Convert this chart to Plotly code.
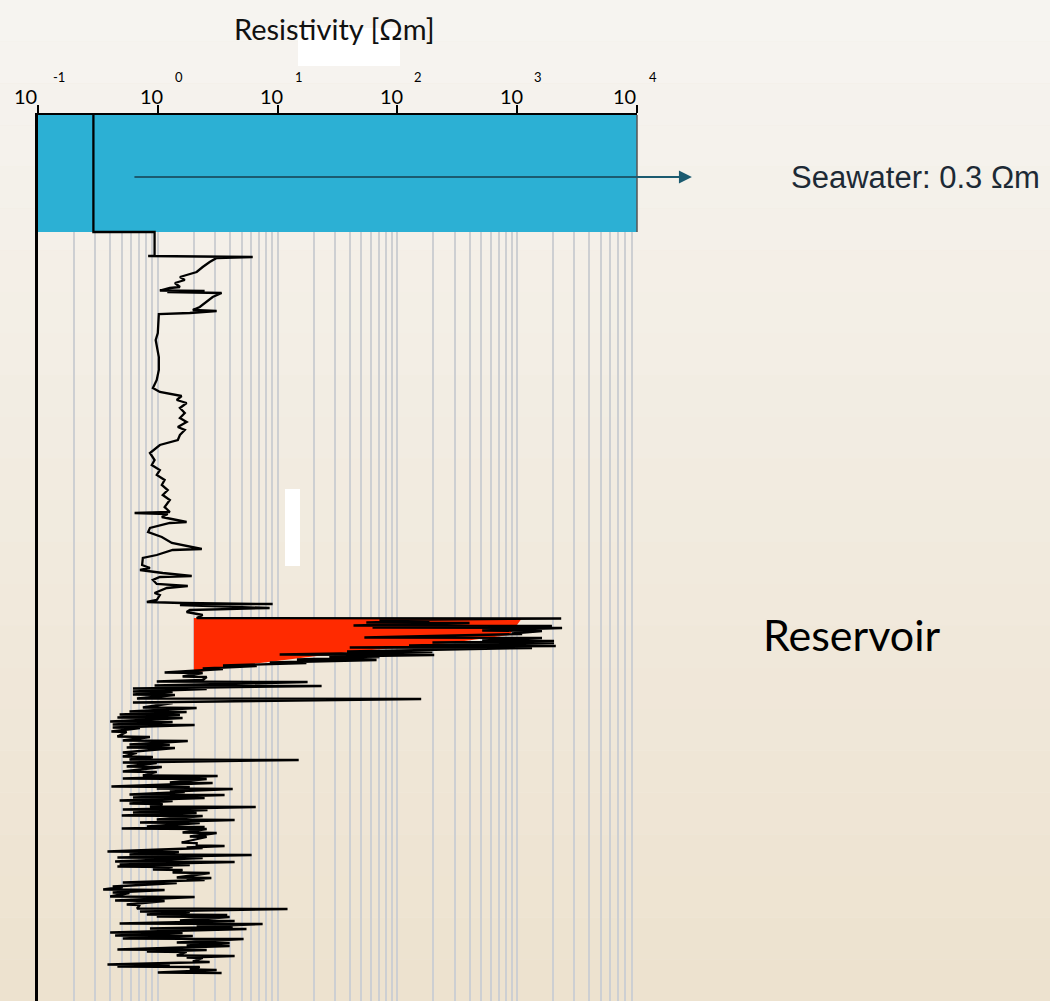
import plotly.graph_objects as go
import math

# ---------------- data ----------------
# Resistivity log: depth below sea surface (m) and resistivity (ohm-m)
seawater_resistivity = 0.29
seafloor_depth = 117
reservoir_cutoff = 2.0

# seawater + seafloor
log_depth_a = [0, 117, 117, 141, 141, 142, 143]
log_res_a = [0.29, 0.29, 0.94, 0.94, 0.83, 6.2, 3.1]

# shallow sediments
log_depth_b = [147, 152, 157, 160, 162, 165, 168, 172, 173, 175.5,
               176, 177, 178, 182, 187, 192, 195, 196, 198, 199,
               218, 225, 242, 255, 265, 273, 277, 279, 281, 285,
               288, 293, 298, 303, 307, 312, 315, 320, 325, 330,
               338, 345, 350, 355, 360, 365, 370, 375, 380, 385,
               392, 397, 398, 399, 402, 407, 408, 413, 417, 422,
               428, 434, 435, 440, 443, 450, 453, 455, 458, 461,
               462, 465, 469, 471, 473, 478, 480, 485, 487, 488,
               489, 490, 493, 495, 497, 500, 503]
log_res_b = [2.71, 2.37, 2.11, 1.74, 1.53, 1.68, 1.39, 1.53, 1.26, 1.04,
             2.46, 1.2, 3.41, 2.87, 2.56, 2.24, 1.96, 3.10, 1.85, 1.02,
             1.0, 0.96, 1.02, 1.02, 0.98, 0.91, 1.04, 1.26, 1.58, 1.44,
             1.74, 1.53, 1.68, 1.53, 1.74, 1.47, 1.68, 1.53, 1.47, 1.04,
             0.86, 0.94, 0.89, 1.04, 0.98, 1.14, 1.08, 1.21, 1.10, 1.26,
             1.14, 1.26, 0.64, 1.21, 1.08, 1.74, 1.26, 0.86, 0.83, 1.08,
             1.31, 2.33, 1.33, 0.98, 0.75, 0.74, 0.86, 0.71, 1.10, 1.92,
             1.04, 0.91, 0.98, 1.78, 1.19, 0.94, 1.04, 0.98, 0.81, 1.61,
             9.09, 1.53, 8.58, 1.85, 1.74, 2.37, 2.11]

# reservoir interval
log_depth_c = [503.5, 505, 506, 507.5, 508, 510.5, 511, 512.5, 513, 515.5,
               516, 518.5, 519, 522.5, 523, 525.5, 526, 527.5, 528, 530.5,
               531, 532.5, 533, 536.5, 537, 539.5, 540, 541.5, 542, 544.5,
               545, 547.5, 548, 550.5, 551, 553.5, 554, 557.5, 558, 561.5,
               562, 565, 566.5, 567, 570.5, 571, 573.5, 574, 576.5, 577,
               579.5, 580, 583.5, 584, 587.5, 588]
log_res_c = [2330, 70.8, 185, 55, 400, 43, 1950, 62, 2370, 510,
             1610, 900, 1100, 53, 1610, 510, 2030, 196, 2030, 125,
             2100, 40, 1330, 38, 196, 10.4, 203, 27, 70.8, 14.5,
             67, 8.6, 17.4, 3.5, 6.7, 2.37, 3.5, 1.14, 2.37, 1.61,
             2.56, 2.37, 0.98, 17.8, 0.94, 23.3, 0.62, 2.56, 0.62, 1.33,
             0.62, 1.39, 0.67, 158, 0.62, 1.33]

# below reservoir (upper part)
log_depth_d = [592.5, 593, 596.5, 597, 599.5, 600, 602.5, 603, 606.5, 607,
               609.5, 610, 612.5, 613, 616.5, 617, 621.5, 622, 625.5, 626,
               629.5, 630, 632.5, 633, 637.5, 638, 641.5, 642, 644.5, 645,
               647.5, 648, 651.5, 652, 656.5, 657, 660.5, 661, 663.5, 664,
               667.5, 668, 671.5, 672, 673.5, 674, 676.5, 677, 679.5, 680,
               682.5, 683, 685.5, 686, 688.5, 689, 691.5, 692, 694.5, 695,
               697.5, 698, 700.5, 701, 704.5, 705, 707.5, 708, 711.5, 712,
               713.5, 714, 717.5, 718, 721.5, 722]
log_res_d = [0.75, 2.11, 0.58, 1.74, 0.48, 1.53, 0.46, 1.61, 0.40, 1.33,
             0.42, 2.03, 0.42, 0.71, 0.41, 0.55, 0.46, 0.86, 0.51, 1.78,
             0.58, 1.26, 0.55, 1.39, 0.51, 0.67, 0.51, 0.91, 0.58, 15,
             0.51, 0.98, 0.55, 1.08, 0.51, 0.98, 0.75, 3.16, 0.51, 2.56,
             1.26, 2.87, 0.41, 1.85, 0.98, 4.22, 1.26, 1.68, 0.58, 3.61,
             0.62, 2.46, 0.48, 1.33, 0.58, 1.10, 0.86, 6.57, 0.51, 2.6,
             0.62, 2.11, 0.5, 2.37, 0.98, 4.38, 0.71, 2.24, 0.81, 2.46,
             0.5, 2.56, 1.61, 3.1, 1.85, 2.56]

# below reservoir (deeper part)
log_depth_e = [727.5, 728, 730.5, 731, 732.5, 733, 736.5, 737, 739.5, 740,
               742.5, 743, 746.5, 747, 749.5, 750, 751.5, 752, 754.5, 755,
               757.5, 758, 762.5, 763, 764.5, 765, 767.5, 768, 771.5, 772,
               774.5, 775, 777.5, 778, 781.5, 782, 785.5, 786, 789.5, 790,
               793.5, 794, 796.5, 797, 799.5, 800, 801.5, 802, 805.5, 806,
               808.5, 809, 811.5, 812, 813.5, 814, 817.5, 818, 820.5, 821,
               823.5, 824, 827.5, 828, 830.5, 831, 834.5, 835, 836.5, 837,
               840.5, 841, 842.5, 843, 846.5, 847, 849.5, 850, 851.5, 852,
               854.5, 855, 857.5, 858]
log_res_e = [1.58, 2.11, 2.11, 3.61, 1.74, 2.37, 0.38, 1.5, 0.58, 6.07,
             0.46, 2.37, 0.44, 4.38, 0.48, 1.85, 0.46, 1.33, 0.91, 1.61,
             1.33, 2.71, 1.44, 2.8, 1.74, 2.46, 0.51, 1.44, 0.42, 0.51,
             0.35, 1.14, 0.42, 0.58, 0.40, 2.03, 0.44, 1.14, 0.55, 0.71,
             0.67, 12.1, 0.71, 1.85, 0.81, 3.8, 0.98, 3.98, 1.53, 4.38,
             0.48, 7.5, 2.11, 4.22, 0.86, 5.5, 0.40, 1.61, 0.44, 1.96,
             0.51, 5.2, 1.44, 3.98, 1.74, 3.98, 0.46, 2.56, 0.81, 1.74,
             1.44, 4.38, 1.74, 2.37, 1.96, 2.71, 0.38, 1.26, 0.46, 2.24,
             1.85, 3.1, 1.0, 3.41]

# reservoir highlight (red area), bounded on the left by the cutoff
reservoir_fill_depth = [503, 503, 520, 528, 537, 545, 552, 558]
reservoir_fill_res = [2.0, 1100, 860, 271, 39.8, 11, 3.76, 2.0]

decade_exps = [-1, 0, 1, 2, 3, 4]
axis_max_depth = 886

# ---------------- figure ----------------
log_depth = log_depth_a + log_depth_b + log_depth_c + log_depth_d + log_depth_e
log_res = log_res_a + log_res_b + log_res_c + log_res_d + log_res_e
n = min(len(log_depth), len(log_res))
log_depth, log_res = log_depth[:n], log_res[:n]

xmin, xmax = 10.0 ** decade_exps[0], 10.0 ** decade_exps[-1]
major_vals = [10.0 ** e for e in decade_exps]
minor_vals = [m * 10.0 ** e for e in decade_exps[:-1] for m in range(2, 10)]

W, H = 1050, 1001
L, R_, T, B = 38, 413, 115, 0
pw, ph = W - L - R_, H - T - B


def px(x):
    return (x - L) / pw


def py(y):
    return (H - B - y) / ph


def mix(c1, c2, t):
    a = [int(c1[i:i + 2], 16) for i in (1, 3, 5)]
    b = [int(c2[i:i + 2], 16) for i in (1, 3, 5)]
    return "rgb(%d,%d,%d)" % tuple(round(a[k] + (b[k] - a[k]) * t) for k in range(3))


fig = go.Figure()

# seawater band
fig.add_trace(go.Scatter(
    x=[xmin, xmax, xmax, xmin, xmin],
    y=[0, 0, seafloor_depth, seafloor_depth, 0],
    fill="toself", fillcolor="#2cb0d4", mode="lines",
    line=dict(width=0), hoverinfo="skip", showlegend=False))

# reservoir red area
fig.add_trace(go.Scatter(
    x=reservoir_fill_res, y=reservoir_fill_depth,
    fill="toself", fillcolor="#ff2a00", mode="lines",
    line=dict(width=0, color="#ff2a00"), hoverinfo="skip", showlegend=False))

# resistivity log
fig.add_trace(go.Scatter(
    x=log_res, y=log_depth, mode="lines",
    line=dict(color="black", width=2.3), hoverinfo="skip", showlegend=False))

grid_col = "#cdcfd2"
fig.update_xaxes(
    type="log", range=[decade_exps[0], decade_exps[-1]], side="top",
    showline=True, linecolor="black", linewidth=2,
    tickvals=major_vals, ticks="outside", ticklen=8, tickwidth=1.5,
    tickcolor="black", showticklabels=False,
    showgrid=True, gridcolor=grid_col, gridwidth=1.5,
    minor=dict(tickvals=minor_vals, showgrid=True, gridcolor=grid_col,
               gridwidth=1.5, ticks=""),
    zeroline=False, fixedrange=True)
fig.update_yaxes(
    range=[axis_max_depth, 0], showline=True, linecolor="black", linewidth=2.5,
    showgrid=False, zeroline=False, showticklabels=False, ticks="")

ann = []
for i, e in enumerate(decade_exps):
    end = (i == 0 or i == len(decade_exps) - 1)
    ann.append(dict(x=e, xref="x", y=py(96), yref="paper", text="10",
                    showarrow=False, xanchor="center", yanchor="middle",
                    xshift=-13 if end else -6,
                    font=dict(family="Lato", size=20, color="black")))
    ann.append(dict(x=e, xref="x", y=py(77), yref="paper", text=str(e),
                    showarrow=False, xanchor="center", yanchor="middle",
                    xshift=16 if i == len(decade_exps) - 1 else 21,
                    font=dict(family="Lato", size=13, color="black")))

ann.append(dict(x=px(334), xref="paper", y=py(28), yref="paper",
                text="Resistivity [Ωm]", showarrow=False, xanchor="center",
                yanchor="middle", font=dict(family="Lato", size=29, color="#111")))

# arrow to seawater label
ann.append(dict(x=(693 - 158) / 120, xref="x", y=62, yref="y",
                ax=math.log10(0.62), axref="x", ay=62, ayref="y",
                text="", showarrow=True, arrowhead=2, arrowsize=1.3,
                arrowwidth=2, arrowcolor="#1b5b70"))
ann.append(dict(x=px(789), xref="paper", y=62, yref="y",
                text="Seawater: %.1f Ωm" % 0.3, showarrow=False,
                xanchor="left", yanchor="middle",
                font=dict(family="Liberation Sans", size=31, color="#1d2a35")))
ann.append(dict(x=px(761), xref="paper", y=py(635), yref="paper",
                text="Reservoir", showarrow=False, xanchor="left",
                yanchor="middle",
                font=dict(family="Lato", size=43, color="black")))

shapes = []
# soft vertical background gradient (paper texture tone)
nb = 24
for k in range(nb):
    t = k / (nb - 1)
    shapes.append(dict(type="rect", xref="paper", yref="paper",
                       x0=px(0), x1=px(W), y0=py(H * (k + 1) / nb), y1=py(H * k / nb),
                       fillcolor=mix("#f6f4f0", "#ede2cf", t),
                       line=dict(width=0), layer="below"))
shapes += [
    # white artifacts
    dict(type="rect", xref="paper", yref="paper", x0=px(298), x1=px(400),
         y0=py(66), y1=py(28), fillcolor="white", line=dict(width=0), layer="below"),
    dict(type="rect", xref="paper", yref="paper", x0=px(285), x1=px(300),
         y0=py(566), y1=py(489), fillcolor="white", line=dict(width=0), layer="above"),
    # right edge of seawater band
    dict(type="line", xref="paper", yref="y", x0=1, x1=1, y0=0, y1=seafloor_depth,
         line=dict(color="#555", width=1.5), layer="above"),
]

fig.update_layout(
    width=W, height=H, margin=dict(l=L, r=R_, t=T, b=B, pad=0),
    paper_bgcolor="#f1eadf", plot_bgcolor="rgba(0,0,0,0)",
    annotations=ann, shapes=shapes, showlegend=False)

fig.write_html("out.html")
